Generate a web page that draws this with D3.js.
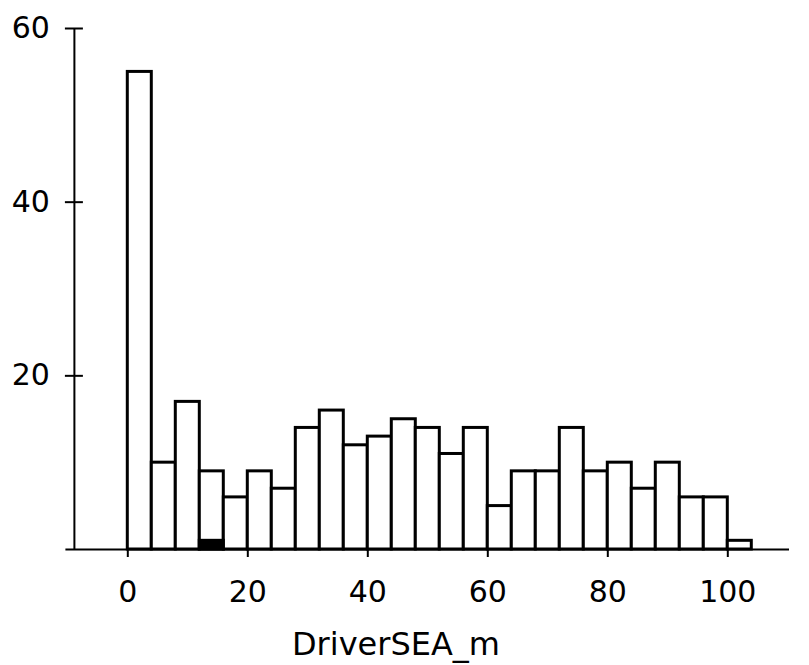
<!DOCTYPE html>
<html>
<head>
<meta charset="utf-8">
<script src="https://cdn.jsdelivr.net/npm/d3@7"></script>
<style>
  html, body { margin: 0; padding: 0; background: #fff; }
  svg { display: block; }
  text { font-family: "DejaVu Sans", sans-serif; fill: #000; }
</style>
</head>
<body>
<svg id="chart" width="809" height="665"></svg>
<script>
// Histogram of DriverSEA_m, bin width 4
const binStarts = [0,4,8,12,16,20,24,28,32,36,40,44,48,52,56,60,64,68,72,76,80,84,88,92,96,100];
const counts    = [55,10,17,9,6,9,7,14,16,12,13,15,14,11,14,5,9,9,14,9,10,7,10,6,6,1];
const highlightStarts = [12];
const highlightCounts = [1];
const binWidth = 4;
const xTicks = [0,20,40,60,80,100];
const yTicks = [20,40,60];
const xLabel = "DriverSEA_m";

const svg = d3.select("#chart");
const x = d3.scaleLinear().domain([-10.4, 110.2]).range([64.9, 788.5]);
const y = d3.scaleLinear().domain([0, 60]).range([549, 28]);

const bars = binStarts.map((s, i) => ({s, v: counts[i]}));
const hl = highlightStarts.map((s, i) => ({s, v: highlightCounts[i]}));

// bars
svg.append("g").selectAll("rect").data(bars).join("rect")
  .attr("x", d => x(d.s))
  .attr("width", d => x(d.s + binWidth) - x(d.s))
  .attr("y", d => y(d.v))
  .attr("height", d => y(0) - y(d.v))
  .attr("fill", "#fff")
  .attr("stroke", "#000")
  .attr("stroke-width", 3);

svg.append("g").selectAll("rect").data(hl).join("rect")
  .attr("x", d => x(d.s))
  .attr("width", d => x(d.s + binWidth) - x(d.s))
  .attr("y", d => y(d.v))
  .attr("height", d => y(0) - y(d.v))
  .attr("fill", "#000")
  .attr("stroke", "#000")
  .attr("stroke-width", 3);

// x axis
const gx = svg.append("g").attr("transform", `translate(0,${y(0)})`)
  .call(d3.axisBottom(x).tickValues(xTicks).tickSize(8).tickSizeOuter(0).tickPadding(24));
gx.select(".domain").attr("stroke-width", 2);
gx.selectAll(".tick line").attr("stroke-width", 2);
gx.selectAll(".tick text").attr("font-size", 30).attr("font-family", "DejaVu Sans");

// y axis
const gy = svg.append("g").attr("transform", `translate(${x(-8.9)},0)`)
  .call(d3.axisLeft(y).tickValues(yTicks).tickSize(9).tickSizeOuter(0).tickPadding(15));
gy.select(".domain").attr("stroke-width", 2);
gy.selectAll(".tick line").attr("x1", 9).attr("x2", -9).attr("stroke-width", 2);
gy.selectAll(".tick text").attr("font-size", 30).attr("font-family", "DejaVu Sans");

// x axis title
svg.append("text")
  .attr("x", 396).attr("y", 655)
  .attr("text-anchor", "middle")
  .attr("font-size", 32)
  .text(xLabel);
</script>
</body>
</html>
